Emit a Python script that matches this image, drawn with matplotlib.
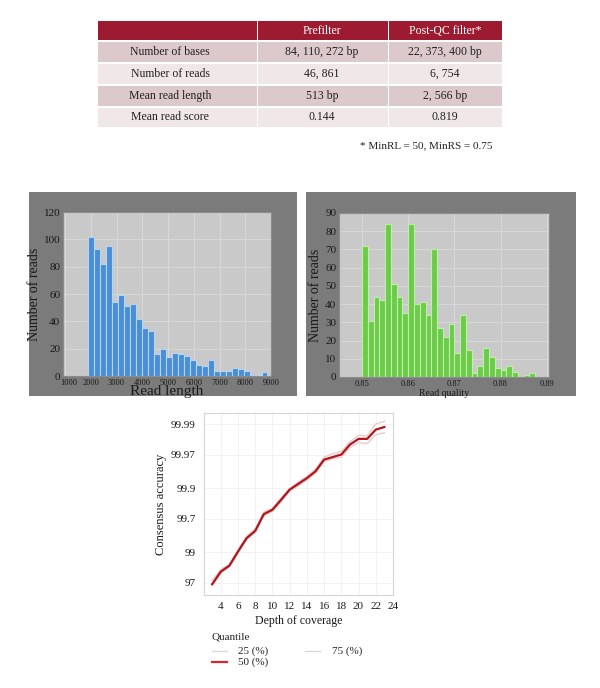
import numpy as np
import matplotlib
matplotlib.use("Agg")
import matplotlib.pyplot as plt
import matplotlib.transforms as mtransforms
from matplotlib.patches import Rectangle

plt.rcParams['font.family'] = ['Liberation Serif', 'DejaVu Serif']

# ---------------- data ----------------
table_header = ["", "Prefilter", "Post-QC filter*"]
table_rows = [
    ["Number of bases", "84, 110, 272 bp", "22, 373, 400 bp"],
    ["Number of reads", "46, 861", "6, 754"],
    ["Mean read length", "513 bp", "2, 566 bp"],
    ["Mean read score", "0.144", "0.819"],
]
table_note = "* MinRL = 50, MinRS = 0.75"

length_bin_start = 1903
length_bin_width = 232
length_counts = [102, 93, 82, 95, 54, 59, 51, 53, 42, 35, 33, 16, 20, 14, 17,
                 16, 15, 12, 8, 7, 12, 4, 4, 4, 6, 5, 4, 1, 1, 3]
length_ticks = [1000, 2000, 3000, 4000, 5000, 6000, 7000, 8000, 9000]

quality_bin_start = 0.85
quality_bin_width = 0.00125
quality_counts = [72, 31, 44, 42, 84, 51, 44, 35, 84, 40, 41, 34, 70, 27, 22,
                  29, 13, 34, 15, 2, 6, 16, 11, 5, 4, 6, 3, 0, 1, 2]
quality_ticks = [0.85, 0.86, 0.87, 0.88, 0.89]

depth = list(range(3, 24))
# consensus quality on Phred scale (-10 log10 error)
q50 = [15.0, 16.96, 17.9, 20.1, 22.2, 23.35, 25.97, 26.65, 28.2, 29.8, 30.7,
       31.6, 32.67, 34.5, 34.9, 35.3, 36.86, 37.75, 37.75, 39.2, 39.6]
q75 = [15.6, 17.3, 18.1, 20.4, 22.5, 23.6, 26.3, 26.9, 28.5, 30.0, 31.0,
       31.9, 33.0, 34.9, 35.4, 35.8, 37.3, 38.3, 38.2, 40.1, 40.5]
q25 = [14.8, 16.7, 17.7, 19.9, 22.0, 23.1, 25.7, 26.4, 27.9, 29.6, 30.4,
       31.3, 32.4, 34.2, 34.6, 34.9, 36.4, 37.2, 37.0, 38.4, 38.7]
accuracy_tick_labels = ["97", "99", "99.7", "99.9", "99.97", "99.99"]
depth_ticks = [4, 6, 8, 10, 12, 14, 16, 18, 20, 22, 24]

# ---------------- figure ----------------
W, H = 600, 688
fig = plt.figure(figsize=(6, 6.88), dpi=100)

def fr(x0, y0, x1, y1):
    return [x0 / W, (H - y1) / H, (x1 - x0) / W, (y1 - y0) / H]

bg = fig.add_axes([0, 0, 1, 1], zorder=0)
bg.set_xlim(0, W)
bg.set_ylim(H, 0)
bg.axis('off')

# table
col_edges = [97, 257, 388, 502]
row_edges = [20, 41, 63, 85, 107, 128]
row_colors = ["#9c1b31", "#dcc9cc", "#f0e7e8", "#dcc9cc", "#f0e7e8"]
col_centers = [170, 322, 445]
for r in range(5):
    for c in range(3):
        x0, x1 = col_edges[c], col_edges[c + 1]
        y0, y1 = row_edges[r], row_edges[r + 1]
        bg.add_patch(Rectangle((x0 + 0.5, y0 + 0.8), x1 - x0 - 1, y1 - y0 - 1.6,
                               facecolor=row_colors[r], edgecolor='none'))
        txt = table_header[c] if r == 0 else table_rows[r - 1][c]
        bg.text(col_centers[c], (y0 + y1) / 2, txt, ha='center', va='center',
                fontsize=8.5, color='white' if r == 0 else '#222222')
bg.text(492, 146, table_note, ha='right', va='center', fontsize=8, color='#222222')

# histogram panels
bg.add_patch(Rectangle((29, 192), 268, 204, facecolor='#7b7b7b', edgecolor='none'))
bg.add_patch(Rectangle((306, 192), 270, 204, facecolor='#7b7b7b', edgecolor='none'))

def style_hist(ax):
    ax.set_facecolor('#c9c9c9')
    ax.grid(True, color='#dadada', linewidth=0.6)
    ax.set_axisbelow(True)
    for s in ax.spines.values():
        s.set_color('#8c8c8c')
        s.set_linewidth(0.8)
    ax.tick_params(length=0, colors='#1a1a1a')

# left histogram
ax1 = fig.add_axes(fr(63, 212, 271, 376), zorder=2)
style_hist(ax1)
edges1 = length_bin_start + length_bin_width * np.arange(len(length_counts))
ax1.bar(edges1, length_counts, width=length_bin_width, align='edge',
        color='#4a8ed6', edgecolor='#b3d4f2', linewidth=0.8)
ax1.set_xlim(920, 9000)
ax1.set_ylim(0, 120)
ax1.set_xticks(length_ticks)
ax1.set_yticks(range(0, 121, 20))
ax1.tick_params(axis='x', labelsize=6, pad=2)
ax1.tick_params(axis='y', labelsize=8, pad=2)
ax1.set_xlabel("Read length", fontsize=11, labelpad=-1, color='#1a1a1a')
ax1.set_ylabel("Number of reads", fontsize=10, labelpad=2, color='#1a1a1a')
# nudge the "1000" label so it does not collide with the y "0" label
shift = mtransforms.ScaledTranslation(4 / 100, 0, fig.dpi_scale_trans)
xt0 = ax1.get_xticklabels()[0]
xt0.set_transform(xt0.get_transform() + shift)

# right histogram
ax2 = fig.add_axes(fr(339, 213, 549, 377), zorder=2)
style_hist(ax2)
edges2 = quality_bin_start + quality_bin_width * np.arange(len(quality_counts))
ax2.bar(edges2, quality_counts, width=quality_bin_width, align='edge',
        color='#6ccc4a', edgecolor='#bdf0a6', linewidth=0.8)
ax2.set_xlim(0.845, 0.8905)
ax2.set_ylim(0, 90)
ax2.set_xticks(quality_ticks)
ax2.set_xticklabels([f"{t:.2f}" for t in quality_ticks])
ax2.set_yticks(range(0, 91, 10))
ax2.tick_params(axis='x', labelsize=6, pad=2)
ax2.tick_params(axis='y', labelsize=8, pad=2)
ax2.set_xlabel("Read quality", fontsize=7, labelpad=1, color='#1a1a1a')
ax2.set_ylabel("Number of reads", fontsize=10, labelpad=2, color='#1a1a1a')

# consensus accuracy plot
ax3 = fig.add_axes(fr(204, 413, 393, 595), zorder=2)
ax3.set_facecolor('white')
for s in ax3.spines.values():
    s.set_color('#d5d5d5')
    s.set_linewidth(0.8)
ax3.grid(True, color='#f0f0f0', linewidth=0.6)
ax3.set_axisbelow(True)
ax3.plot(depth, q25, color='#e6cccc', linewidth=1.0)
ax3.plot(depth, q75, color='#e6cccc', linewidth=1.0)
ax3.plot(depth, q50, color='#b3151c', linewidth=1.6)
acc_vals = np.array([float(t) for t in accuracy_tick_labels])
ax3.set_yticks(-10 * np.log10(1 - acc_vals / 100))
ax3.set_yticklabels(accuracy_tick_labels)
ax3.set_xticks(depth_ticks)
ax3.set_xlim(2.05, 24)
ax3.set_ylim(13.3, 41.8)
ax3.tick_params(length=0, labelsize=8, colors='#1a1a1a', pad=6)
ax3.tick_params(axis='x', pad=5)
ax3.set_xlabel("Depth of coverage", fontsize=8.5, labelpad=3, color='#1a1a1a')
ax3.set_ylabel("Consensus accuracy", fontsize=9, labelpad=3, color='#1a1a1a')

# legend (drawn manually to match layout)
bg.text(212, 637, "Quantile", fontsize=8, va='center', ha='left', color='#222222')
bg.plot([212, 227], [651, 651], color='#d8d8d8', linewidth=1.0)
bg.text(238, 651, "25 (%)", fontsize=8, va='center', ha='left', color='#222222')
bg.plot([212, 227], [662, 662], color='#d8262e', linewidth=1.6)
bg.text(238, 662, "50 (%)", fontsize=8, va='center', ha='left', color='#222222')
bg.plot([305, 320], [651, 651], color='#d8d8d8', linewidth=1.0)
bg.text(332, 651, "75 (%)", fontsize=8, va='center', ha='left', color='#222222')

fig.savefig("out.png", dpi=100, facecolor='white')
